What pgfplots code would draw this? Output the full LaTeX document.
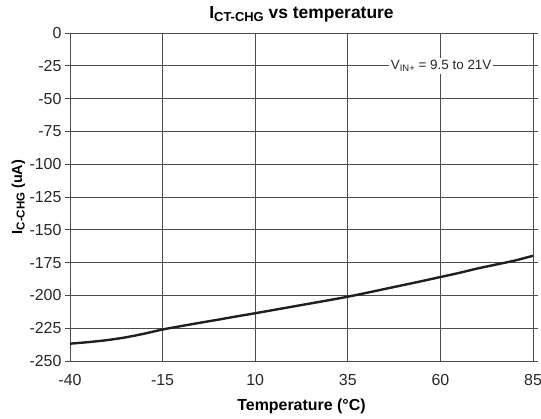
\documentclass[border=0pt]{standalone}
\usepackage{fontspec}
\setmainfont{Liberation Sans}
\usepackage{pgfplots}
\pgfplotsset{compat=1.18}
\usetikzlibrary{calc}
\newcommand{\sub}[2]{\raisebox{-0.3ex}{\fontsize{#2}{#2}\selectfont #1}}
\begin{document}
\begin{tikzpicture}
\begin{axis}[
  name=ax,
  scale only axis,
  width=463bp, height=328bp,
  xmin=-40, xmax=85, ymin=-250, ymax=0,
  xtick={-40,-15,10,35,60,85},
  ytick={-250,-225,-200,-175,-150,-125,-100,-75,-50,-25,0},
  grid=major,
  major grid style={black!70, line width=0.8bp},
  axis line style={black!70, line width=0.8bp},
  xtick style={draw=none},
  ytick style={black!70, line width=0.8bp},
  tick align=outside,
  major tick length=5bp,
  /pgf/number format/assume math mode=true,
  ticklabel style={font=\fontsize{16}{16}\selectfont, text=black!85},
  xticklabel style={yshift=-5bp},
  yticklabel style={xshift=0bp},
  title={\bfseries I\sub{CT-CHG}{13} vs temperature},
  title style={font=\fontsize{17.5}{18}\selectfont, at={(0.5,1)}, yshift=1bp},
  xlabel={\bfseries Temperature (°C)},
  xlabel style={font=\fontsize{16}{16}\selectfont, yshift=-6bp},
  ylabel={\bfseries I\sub{C-CHG}{11.5} (uA)},
  ylabel style={font=\fontsize{14.5}{14.5}\selectfont, yshift=-2.5bp},
]
\addplot[black!88, line width=2.4bp, smooth] coordinates {
(-40,-236.8) (-35,-235.6) (-30,-234.1) (-25,-232) (-20,-229.2) (-15,-226)
(-10,-223.4) (-5,-220.9) (0,-218.5) (5,-216) (10,-213.6) (15,-211.1)
(20,-208.6) (25,-206.1) (30,-203.6) (35,-201) (40,-198.1) (45,-195.1)
(50,-192.1) (55,-189.1) (60,-186) (65,-182.9) (70,-179.5) (75,-176.5)
(80,-173.5) (85,-169.8)
};
\node[fill=white, inner sep=2bp, font=\fontsize{13.5}{13.5}\selectfont, text=black!85] at (axis cs:60.2,-25) {V\sub{IN+}{9.5} = 9.5 to 21V};
\end{axis}
\pgfresetboundingbox
\path ($(ax.south west)+(-70bp,-58bp)$) rectangle ($(ax.north east)+(8bp,33bp)$);
\end{tikzpicture}
\end{document}
